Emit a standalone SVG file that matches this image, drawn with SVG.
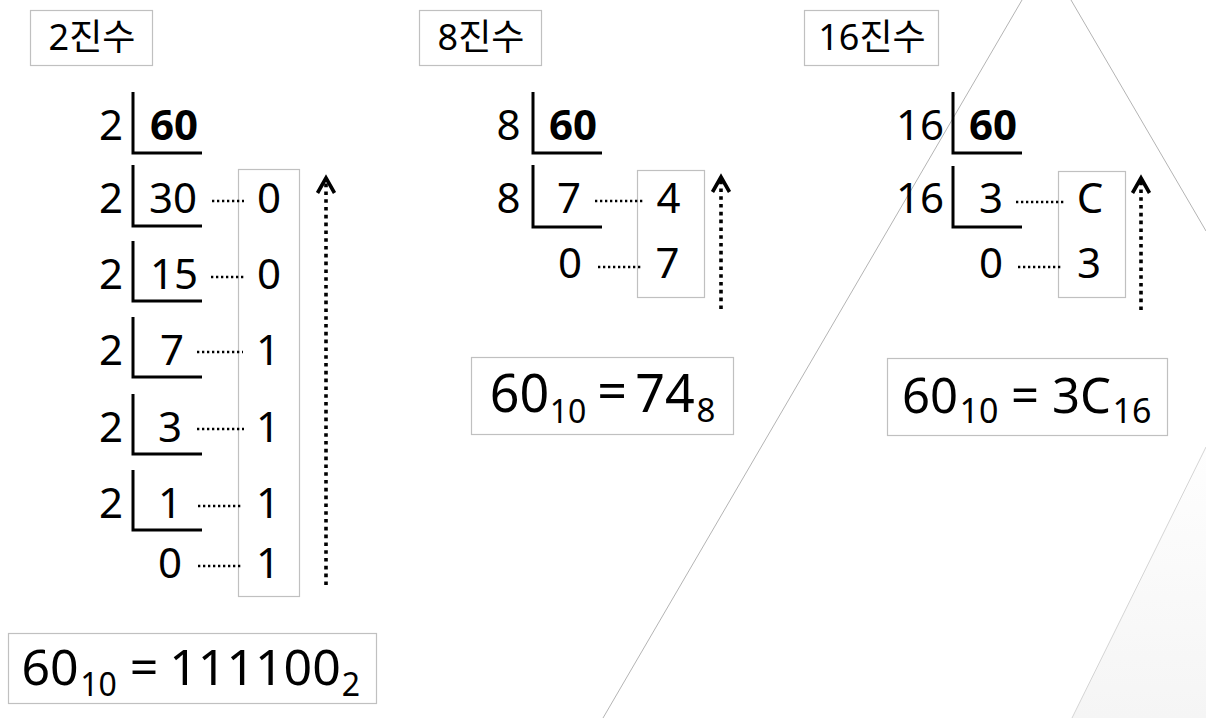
<svg xmlns="http://www.w3.org/2000/svg" width="1206" height="718" viewBox="0 0 1206 718">
<defs>
<linearGradient id="bgGrad" x1="0" y1="0" x2="0" y2="1">
<stop offset="0" stop-color="#fefefe"/>
<stop offset="1" stop-color="#f5f5f5"/>
</linearGradient>
<marker id="head" markerUnits="userSpaceOnUse" markerWidth="24" markerHeight="24" viewBox="0 0 24 24" refX="19" refY="12" orient="auto">
<path d="M4,3.5 L19,12 L4,20.5" fill="none" stroke="#000" stroke-width="3.6" stroke-dasharray="none"/>
</marker>
<style>
text{font-family:"Noto Sans","Noto Sans CJK KR",sans-serif;fill:#000;}
.lbl{font-size:36px;text-anchor:middle;}
.num{font-size:42px;text-anchor:middle;}
.bold{font-weight:bold;}
.box{fill:none;stroke:#c0c0c0;stroke-width:1.2;}
.brk{fill:none;stroke:#000;stroke-width:3;}
.dot{stroke:#000;stroke-width:2.3;stroke-dasharray:2.3 2.7;}
.arr{stroke:#000;stroke-width:3.6;stroke-dasharray:3.6 4.2;marker-end:url(#head);}
.bgl{fill:none;stroke:#b4b4b4;stroke-width:1;}
.res{text-anchor:middle;}
</style>
</defs>
<rect width="1206" height="718" fill="#fff"/>
<g id="background">
<line class="bgl" x1="1022" y1="0" x2="603" y2="718"/>
<line class="bgl" x1="1071" y1="0" x2="1206" y2="231"/>
<polygon points="1206,447 1072,718 1206,718" fill="url(#bgGrad)"/>
<line x1="1206" y1="447" x2="1072" y2="718" stroke="#d4d4d4" stroke-width="1"/>
</g>

<g id="label-bin">
<rect class="box" x="30.5" y="10.5" width="122" height="55"/>
<text class="lbl" x="92" y="50">2진수</text>
</g>
<g id="label-oct">
<rect class="box" x="419.5" y="10.5" width="122" height="55"/>
<text class="lbl" x="481" y="50">8진수</text>
</g>
<g id="label-hex">
<rect class="box" x="804.5" y="10.5" width="134" height="55"/>
<text class="lbl" x="872" y="50">16진수</text>
</g>

<g id="div-bin">
<path class="brk" d="M133,92 V153 H202 M133,165 V226 H202 M133,241 V301 H202 M133,317 V377 H202 M133,394 V454 H202 M133,470 V530 H202"/>
<text class="num" x="111" y="140">2</text>
<text class="num" x="111" y="213">2</text>
<text class="num" x="111" y="289">2</text>
<text class="num" x="111" y="365">2</text>
<text class="num" x="111" y="442">2</text>
<text class="num" x="111" y="518">2</text>
<text class="num bold" x="174" y="140">60</text>
<text class="num" x="173" y="213">30</text>
<text class="num" x="174" y="289">15</text>
<text class="num" x="172" y="365">7</text>
<text class="num" x="170" y="442">3</text>
<text class="num" x="170" y="518">1</text>
<text class="num" x="170" y="578">0</text>
</g>
<g id="rem-bin">
<rect class="box" x="238.5" y="169.5" width="61" height="427"/>
<text class="num" x="269" y="213">0</text>
<text class="num" x="269" y="289">0</text>
<text class="num" x="268" y="365">1</text>
<text class="num" x="268" y="442">1</text>
<text class="num" x="268" y="518">1</text>
<text class="num" x="268" y="578">1</text>
</g>
<g id="result-bin">
<rect class="box" x="8.5" y="633.5" width="368" height="70"/>
<text class="res" font-size="50"><tspan x="50" y="685">60</tspan><tspan x="98.5" y="696" font-size="32">10</tspan><tspan x="144" y="685">=</tspan><tspan x="255" y="685">111100</tspan><tspan x="351" y="696" font-size="32">2</tspan></text>
</g>

<g id="div-oct">
<path class="brk" d="M533,92 V153 H602 M533,165 V227 H602"/>
<text class="num" x="508.5" y="140">8</text>
<text class="num" x="508.5" y="213">8</text>
<text class="num bold" x="573" y="140">60</text>
<text class="num" x="569" y="213">7</text>
<text class="num" x="570" y="278">0</text>
</g>
<g id="rem-oct">
<rect class="box" x="637.5" y="170.5" width="67" height="127"/>
<text class="num" x="668.5" y="213">4</text>
<text class="num" x="667.5" y="278">7</text>
</g>
<g id="result-oct">
<rect class="box" x="471.5" y="357.5" width="262" height="77"/>
<text class="res" font-size="52"><tspan x="519.5" y="412">60</tspan><tspan x="568" y="423" font-size="32">10</tspan><tspan x="612" y="410">=</tspan><tspan x="665" y="412">74</tspan><tspan x="706" y="422" font-size="33">8</tspan></text>
</g>

<g id="div-hex">
<path class="brk" d="M953,92 V153 H1022 M953,166 V227 H1022"/>
<text class="num" x="920" y="140">16</text>
<text class="num" x="920" y="213">16</text>
<text class="num bold" x="993" y="140">60</text>
<text class="num" x="991" y="213">3</text>
<text class="num" x="991" y="278">0</text>
</g>
<g id="rem-hex">
<rect class="box" x="1058.5" y="171.5" width="67" height="126"/>
<text class="num" x="1090" y="213">C</text>
<text class="num" x="1089" y="278">3</text>
</g>
<g id="result-hex">
<rect class="box" x="887.5" y="358.5" width="280" height="77"/>
<text class="res" font-size="49"><tspan x="930" y="413">60</tspan><tspan x="979" y="423" font-size="34">10</tspan><tspan x="1025" y="413">=</tspan><tspan x="1081.5" y="413">3C</tspan><tspan x="1132" y="423" font-size="34">16</tspan></text>
</g>

<g id="connectors">
<line class="dot" x1="212" y1="201" x2="244" y2="201"/>
<line class="dot" x1="211" y1="277" x2="244" y2="277"/>
<line class="dot" x1="197" y1="352" x2="243" y2="352"/>
<line class="dot" x1="197" y1="429" x2="244" y2="429"/>
<line class="dot" x1="198" y1="506" x2="243" y2="506"/>
<line class="dot" x1="198" y1="566" x2="243" y2="566"/>
<line class="dot" x1="595" y1="201" x2="644" y2="201"/>
<line class="dot" x1="598" y1="267" x2="643" y2="267"/>
<line class="dot" x1="1016" y1="202" x2="1065" y2="202"/>
<line class="dot" x1="1018" y1="267" x2="1063" y2="267"/>
<line class="arr" x1="326" y1="585" x2="326" y2="178"/>
<line class="arr" x1="721" y1="309" x2="721" y2="177"/>
<line class="arr" x1="1141" y1="310" x2="1141" y2="178"/>
</g>
</svg>
